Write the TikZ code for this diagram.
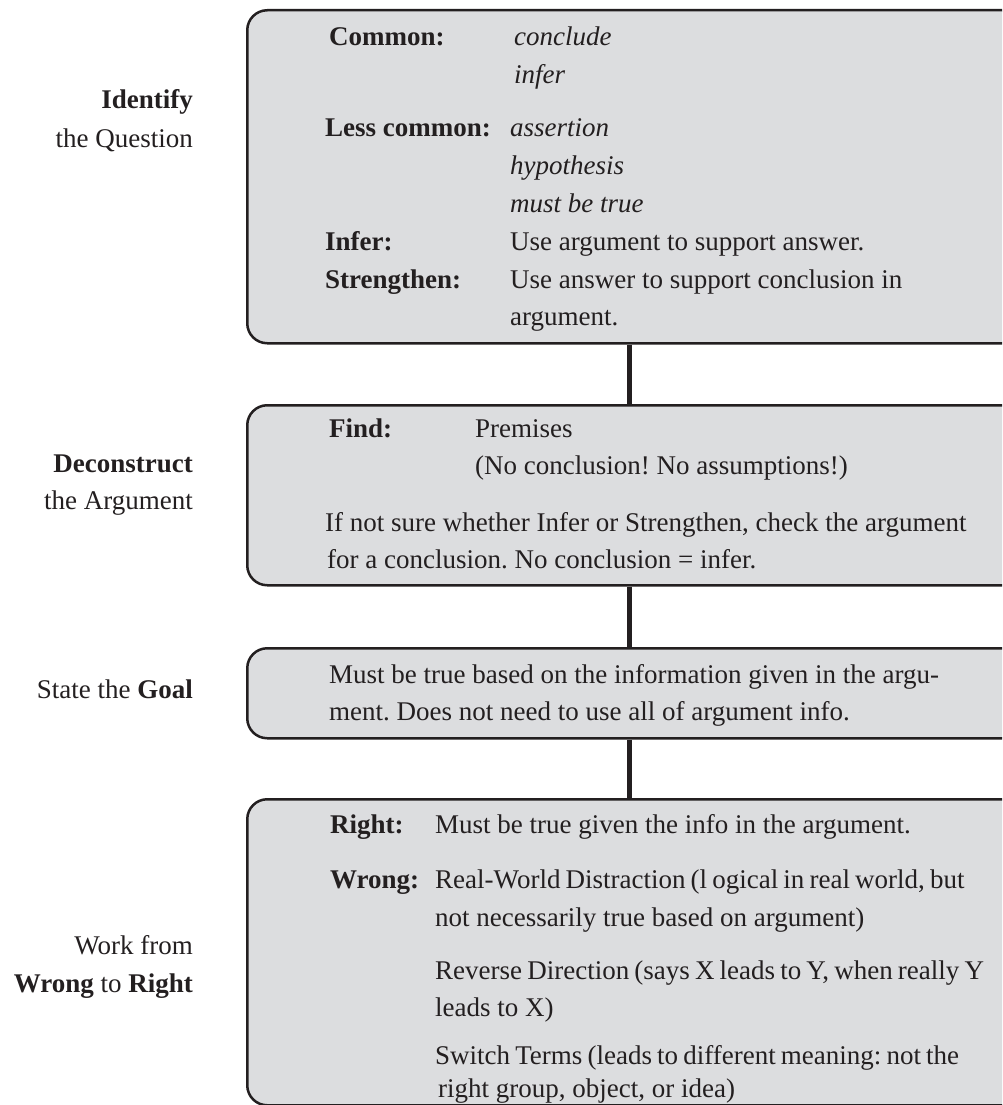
\documentclass[tikz,border=0pt]{standalone}
\usepackage{fontspec}
\setmainfont{Liberation Serif}
\definecolor{ink}{HTML}{231F20}
\definecolor{boxfill}{HTML}{DCDDDF}
\newcommand\fsz{\fontsize{27}{32}\selectfont\frenchspacing}
\newcommand\tightsp{\spaceskip=0.19em plus 0.05em\relax}
\begin{document}
\begin{tikzpicture}[x=1pt,y=-1pt,
  box/.style={draw=ink, line width=2.5pt, fill=boxfill, rounded corners=20pt, rectangle, inner sep=0pt, anchor=north west},
  conn/.style={draw=ink, line width=5pt},
  txt/.style={anchor=base west, inner sep=0pt, text=ink, font=\fsz},
  lab/.style={anchor=base east, inner sep=0pt, text=ink, font=\fsz}]
\useasboundingbox (0,0) rectangle (1002,1105);
\clip (0,0) rectangle (1002,1105);
% boxes
\node[box, minimum width=775pt, minimum height=333pt] (b1) at (246,9) {};
\node[box, minimum width=775pt, minimum height=180pt] (b2) at (246,404) {};
\node[box, minimum width=775pt, minimum height=90pt] (b3) at (246,647) {};
\node[box, minimum width=775pt, minimum height=306pt] (b4) at (246,798) {};
% connectors
\coordinate (cx) at (629,0);
\draw[conn] (b1.south -| cx) -- (b2.north -| cx);
\draw[conn] (b2.south -| cx) -- (b3.north -| cx);
\draw[conn] (b3.south -| cx) -- (b4.north -| cx);
% left labels
\node[lab] (l1a) at (193,109) {\textbf{Identify}};
\node[lab] (l1b) at (193,147) {the Question};
\node[lab] (l2a) at (193,472) {\textbf{Deconstruct}};
\node[lab] (l2b) at (193,509) {the Argument};
\node[lab] (l3) at (193,698) {State the \textbf{Goal}};
\node[lab] (l4a) at (193,954) {Work from};
\node[lab] (l4b) at (193,992) {\textbf{Wrong} to \textbf{Right}};
% box 1
\node[txt] (t1) at (329,46) {\textbf{Common:}};
\node[txt] (t2) at (514,46) {\textit{conclude}};
\node[txt] (t3) at (514,84) {\textit{infer}};
\node[txt] (t4) at (325,136) {\textbf{Less common:}};
\node[txt] (t5) at (510,136) {\textit{assertion}};
\node[txt] (t6) at (510,174) {\textit{hypothesis}};
\node[txt] (t7) at (510,212) {\textit{must be true}};
\node[txt] (t8) at (325,250) {\textbf{Infer:}};
\node[txt] (t9) at (510,250) {Use argument to support answer.};
\node[txt] (t10) at (325,288) {\textbf{Strengthen:}};
\node[txt] (t11) at (510,288) {Use answer to support conclusion in};
\node[txt] (t12) at (510,325) {argument.};
% box 2
\node[txt] (u1) at (329,437) {\textbf{Find:}};
\node[txt] (u2) at (475,437) {Premises};
\node[txt] (u3) at (475,474) {(No conclusion! No assumptions!)};
\node[txt] (u4) at (325,531) {If not sure whether Infer or Strengthen, check the argument};
\node[txt] (u5) at (327,568) {for a conclusion. No conclusion = infer.};
% box 3
\node[txt] (v1) at (329,683) {Must be true based on the information given in the argu-};
\node[txt] (v2) at (329,720) {ment. Does not need to use all of argument info.};
% box 4
\node[txt] (w1) at (330,833) {\textbf{Right:}};
\node[txt] (w2) at (435,833) {Must be true given the info in the argument.};
\node[txt] (w3) at (330,888) {\textbf{Wrong:}};
\node[txt] (w4) at (435,888) {\tightsp Real-World Distraction (l ogical in real world, but};
\node[txt] (w5) at (435,926) {not necessarily true based on argument)};
\node[txt] (w6) at (435,979) {\tightsp Reverse Direction (says X leads to Y, when really Y};
\node[txt] (w7) at (435,1016) {leads to X)};
\node[txt] (w8) at (435,1064) {\tightsp Switch Terms (leads to different meaning: not the};
\node[txt] (w9) at (438,1097) {right group, object, or idea)};
\end{tikzpicture}
\end{document}
